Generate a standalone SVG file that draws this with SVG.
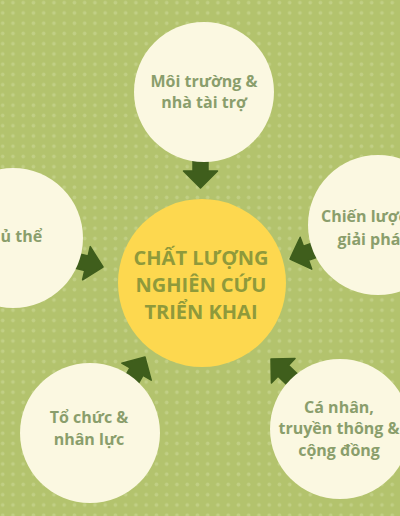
<svg xmlns="http://www.w3.org/2000/svg" width="400" height="516" viewBox="0 0 400 516">
<defs>
<pattern id="dots" x="-2.4" y="-2.4" width="10.25" height="10.25" patternUnits="userSpaceOnUse">
<circle cx="5.1" cy="5.1" r="1.8" fill="#c1cf85"/>
</pattern>
<path id="arr" d="M-31,-7.5 L-17,-7.5 L-17,-17 L0,0 L-17,17 L-17,7.5 L-31,7.5 Z"/>
<style>
.node{fill:#fbf8e1}
.lbl{font-family:"Open Sans","DejaVu Sans",sans-serif;font-weight:bold;font-size:16px;fill:#8a9e6c;text-anchor:middle}
.ctr{font-family:"Open Sans","DejaVu Sans",sans-serif;font-weight:bold;font-size:20px;fill:#8f9a3b;text-anchor:middle}
.arrow{fill:#3f5e1c;stroke:#3f5e1c;stroke-width:1.5;stroke-linejoin:round}
</style>
</defs>
<rect width="400" height="516" fill="#b3c36d"/>
<rect width="400" height="516" fill="url(#dots)"/>
<g id="connectors">
<use href="#arr" class="arrow" transform="translate(200.5,188) rotate(90)"/>
<use href="#arr" class="arrow" transform="translate(103,267) rotate(13)"/>
<use href="#arr" class="arrow" transform="translate(290,259) rotate(160)"/>
<use href="#arr" class="arrow" transform="translate(145,357) rotate(-60)"/>
<use href="#arr" class="arrow" transform="translate(271,359) rotate(224)"/>
</g>
<g id="center">
<circle cx="202" cy="283" r="84" fill="#fdd84f"/>
<text class="ctr" x="201" y="265">CHẤT LƯỢNG</text>
<text class="ctr" x="201" y="292">NGHIÊN CỨU</text>
<text class="ctr" x="201" y="319">TRIỂN KHAI</text>
</g>
<g id="node-top">
<circle class="node" cx="204" cy="92" r="70"/>
<text class="lbl" x="204" y="87">Môi trường &amp;</text>
<text class="lbl" x="204" y="108">nhà tài trợ</text>
</g>
<g id="node-left">
<circle class="node" cx="13" cy="238" r="70"/>
<text class="lbl" x="11" y="242">Chủ thể</text>
</g>
<g id="node-right">
<circle class="node" cx="378" cy="225" r="70"/>
<text class="lbl" x="372" y="222">Chiến lược &amp;</text>
<text class="lbl" x="374" y="245">giải pháp</text>
</g>
<g id="node-bottom-left">
<circle class="node" cx="90" cy="433" r="70"/>
<text class="lbl" x="89" y="423">Tổ chức &amp;</text>
<text class="lbl" x="89" y="445">nhân lực</text>
</g>
<g id="node-bottom-right">
<circle class="node" cx="340" cy="429" r="70"/>
<text class="lbl" x="339" y="413">Cá nhân,</text>
<text class="lbl" x="339" y="434">truyền thông &amp;</text>
<text class="lbl" x="339" y="456">cộng đồng</text>
</g>
</svg>
